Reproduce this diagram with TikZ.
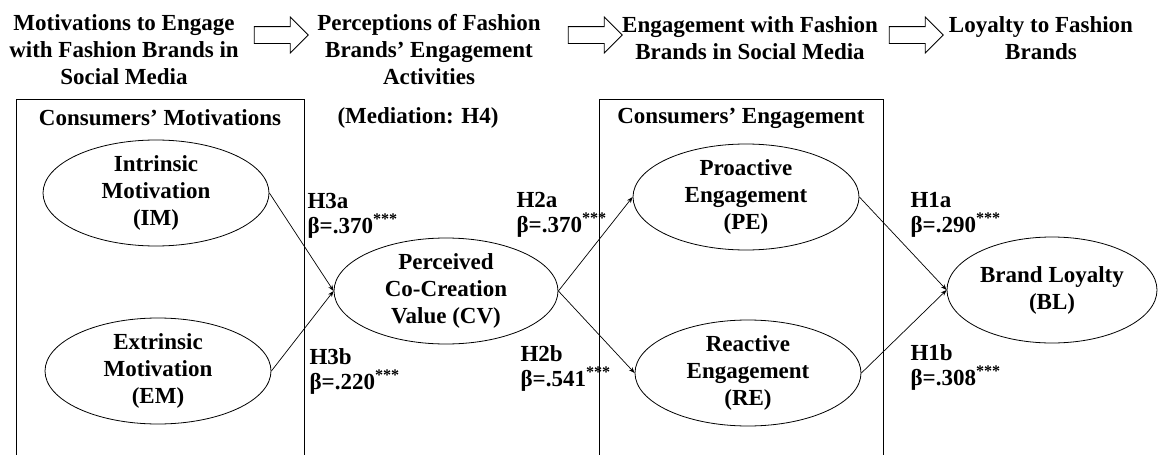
\documentclass[tikz,border=0pt]{standalone}
\usepackage{fontspec}
\setmainfont{Liberation Serif}
\usetikzlibrary{shapes.geometric,shapes.arrows,arrows.meta}

\begin{document}
\begin{tikzpicture}[x=1pt,y=-1pt,
    every node/.style={font=\fontsize{23}{27}\selectfont\bfseries, align=center},
    construct/.style={draw, ellipse, line width=0.8pt, inner sep=-6pt,
      minimum width=226pt, minimum height=106pt,
      font=\fontsize{23}{27}\selectfont\bfseries},
    flow/.style={draw, single arrow, line width=0.8pt, inner xsep=0pt, inner ysep=8pt,
      single arrow head extend=9.5pt, minimum height=54pt},
    link/.style={line width=0.7pt, -{Stealth[length=6pt,width=4.5pt]}},
    coef/.style={align=left, anchor=west, font=\fontsize{23}{25}\selectfont\bfseries}
  ]
  \useasboundingbox (0,0) rectangle (1160,455);

  % stages along the top
  \node (motiv) at (124,50) {Motivations to Engage\\with Fashion Brands in\\Social Media};
  \node (percep) at (429,50) {Perceptions of Fashion\\Brands’ Engagement\\Activities};
  \node (engag) at (750,38) {Engagement with Fashion\\Brands in Social Media};
  \node (loyal) at (1041,38) {Loyalty to Fashion\\Brands};
  \node[flow] (flow1) at (277,35) {};
  \node[flow] (flow2) at (591,35) {};
  \node[flow] (flow3) at (912,35) {};

  % groups
  \draw[line width=0.9pt] (16,455) -- (16,99) -- (304,99) -- (304,455);
  \draw[line width=0.9pt] (599,455) -- (599,99) -- (883,99) -- (883,455);
  \node (motgrp) at (160,118) {Consumers’ Motivations};
  \node (medi) at (418,118) {(Mediation: H4)};
  \node (enggrp) at (741,118) {Consumers’ Engagement};

  % constructs
  \node[construct] (IM) at (156,193) {Intrinsic\\Motivation\\(IM)};
  \node[construct] (EM) at (158,371) {Extrinsic\\Motivation\\(EM)};
  \node[construct, minimum width=224pt] (CV) at (446,291) {Perceived\\Co-Creation\\Value (CV)};
  \node[construct] (PE) at (746,197) {Proactive\\Engagement\\(PE)};
  \node[construct] (RE) at (748,373) {Reactive\\Engagement\\(RE)};
  \node[construct, minimum width=210pt] (BL) at (1052,290) {Brand Loyalty\\(BL)};

  % paths
  \draw[link] (IM.east) -- (CV.west);
  \draw[link] (EM.east) -- (CV.west);
  \draw[link] (CV.east) -- (PE.west);
  \draw[link] (CV.east) -- (RE.west);
  \draw[link] (PE.east) -- (BL.west);
  \draw[link] (RE.east) -- (BL.west);

  \node[coef] (h3a) at (304,216) {H3a\\β=.370\textsuperscript{***}};
  \node[coef] (h3b) at (306,371) {H3b\\β=.220\textsuperscript{***}};
  \node[coef] (h2a) at (513,215) {H2a\\β=.370\textsuperscript{***}};
  \node[coef] (h2b) at (517,368) {H2b\\β=.541\textsuperscript{***}};
  \node[coef] (h1a) at (907,215) {H1a\\β=.290\textsuperscript{***}};
  \node[coef] (h1b) at (907,367) {H1b\\β=.308\textsuperscript{***}};
\end{tikzpicture}
\end{document}
